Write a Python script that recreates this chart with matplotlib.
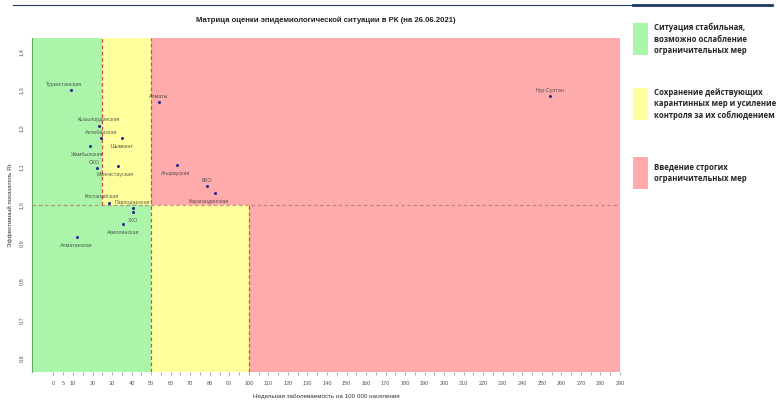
import numpy as np
import matplotlib.pyplot as plt
from matplotlib.patches import Rectangle
from matplotlib.lines import Line2D

plt.rcParams['font.family'] = ['Liberation Sans', 'DejaVu Sans']

# данные по регионам
regions = ['Туркестанская', 'Алматы', 'Кызылординская', 'Актюбинская', 'Шымкент',
           'Жамбылская', 'СКО', 'Мангистауская', 'Атырауская', 'ВКО',
           'Карагандинская', 'Костанайская', 'Павлодарская', 'ЗКО',
           'Акмолинская', 'Алматинская', 'Нур-Султан']
incidence = [8.9, 53.9, 23.4, 24.2, 35.2, 18.8, 22.4, 32.8, 63.4, 78.7,
             82.5, 28.3, 40.6, 40.9, 35.7, 11.8, 254.3]
rt = [1.30, 1.27, 1.208, 1.175, 1.175, 1.154, 1.096, 1.102, 1.105, 1.05,
      1.031, 1.004, 0.991, 0.982, 0.95, 0.917, 1.284]

x_ticks = [0, 5] + list(range(10, 300, 10))
y_ticks = [0.6, 0.7, 0.8, 0.9, 1.0, 1.1, 1.2, 1.3, 1.4]

# границы зон
rt_limit = 1.0
x_low, x_mid, x_high = 25, 50, 100
x_min, x_max = -11, 290
y_min, y_max = 0.563, 1.437

green = '#aaf5aa'
yellow = '#ffff9e'
red = '#ffabab'

legend_items = [
    (green, 'Ситуация стабильная,\nвозможно ослабление\nограничительных мер'),
    (yellow, 'Сохранение действующих\nкарантинных мер и усиление\nконтроля за их соблюдением'),
    (red, 'Введение строгих\nограничительных мер'),
]

# где подписи: смещение в пунктах
label_pos = {
    'Туркестанская': (-5, 4), 'Алматы': (0, 4), 'Кызылординская': (0, 4),
    'Актюбинская': (0, 4), 'Шымкент': (0, -6), 'Жамбылская': (-2, -6),
    'СКО': (-2, 4), 'Мангистауская': (-2, -6), 'Атырауская': (-1, -6),
    'ВКО': (0, 4), 'Карагандинская': (-4, -6), 'Костанайская': (-5, 5),
    'Павлодарская': (0, 4), 'ЗКО': (0, -6), 'Акмолинская': (0, -6),
    'Алматинская': (0, -6), 'Нур-Султан': (0, 4),
}

fig = plt.figure(figsize=(7.77, 4.03), dpi=100)
ax = fig.add_axes([32 / 777, 1 - 372 / 403, 588 / 777, 334 / 403])

# фон зон
ax.add_patch(Rectangle((x_min, rt_limit), x_low - x_min, y_max - rt_limit, color=green, lw=0))
ax.add_patch(Rectangle((x_low, rt_limit), x_mid - x_low, y_max - rt_limit, color=yellow, lw=0))
ax.add_patch(Rectangle((x_mid, rt_limit), x_max - x_mid, y_max - rt_limit, color=red, lw=0))
ax.add_patch(Rectangle((x_min, y_min), x_mid - x_min, rt_limit - y_min, color=green, lw=0))
ax.add_patch(Rectangle((x_mid, y_min), x_high - x_mid, rt_limit - y_min, color=yellow, lw=0))
ax.add_patch(Rectangle((x_high, y_min), x_max - x_high, rt_limit - y_min, color=red, lw=0))

dash = dict(color='#c8504a', lw=0.9, ls=(0, (3, 2)))
ax.plot([x_low, x_low], [rt_limit, y_max], **dash)
ax.plot([x_mid, x_mid], [y_min, y_max], **dash)
ax.plot([x_high, x_high], [y_min, rt_limit], **dash)
ax.plot([x_min, x_max], [rt_limit, rt_limit], color='#b07070', lw=0.9, ls=(0, (3, 2)), alpha=0.7)

ax.scatter(incidence, rt, s=5, color='#2d2d8f', zorder=5, lw=0)
for name, xv, yv in zip(regions, incidence, rt):
    dx, dy = label_pos[name]
    ax.annotate(name, (xv, yv), xytext=(dx, dy), textcoords='offset points',
                ha='center', va='center', fontsize=3.8, color='#333333', alpha=0.8)

ax.set_xlim(x_min, x_max)
ax.set_ylim(y_min, y_max)
ax.set_xticks(x_ticks)
ax.set_xticklabels([str(v) for v in x_ticks], fontsize=4, color='#555555')
ax.set_xticks(np.arange(0, 291, 5), minor=True)
ax.set_yticks(y_ticks)
ax.set_yticklabels([f'{v:.1f}'.replace('.', ',') for v in y_ticks], fontsize=4,
                   color='#555555', rotation=90, va='center')
ax.tick_params(axis='x', which='both', length=2.5, width=0.5, color='#888888', pad=4)
ax.tick_params(axis='y', length=0, pad=6)
for s in ['top', 'right', 'bottom']:
    ax.spines[s].set_visible(False)
ax.spines['left'].set_color('#6aa56a')
ax.spines['left'].set_linewidth(0.8)

ax.set_xlabel('Недельная заболеваемость на 100 000 населения', fontsize=4.5,
              color='#333333', labelpad=6)
ax.set_ylabel('Эффективный показатель Rt', fontsize=4.5, color='#333333', labelpad=4)
fig.text(326 / 777, 1 - 20 / 403, 'Матрица оценки эпидемиологической ситуации в РК (на 26.06.2021)',
         ha='center', va='center', fontsize=5.6, fontweight='bold', color='#222222')

# верхняя линия
fig.add_artist(Line2D([13 / 777, 772 / 777], [1 - 5 / 403] * 2, color='#1f3864', lw=0.8))
fig.add_artist(Line2D([633 / 777, 772 / 777], [1 - 5 / 403] * 2, color='#1f3864', lw=2))

# легенда справа
box_tops = [23, 88, 157]
for (col, txt), top in zip(legend_items, box_tops):
    fig.add_artist(Rectangle((633 / 777, 1 - (top + 32) / 403), 15 / 777, 32 / 403,
                             color=col, lw=0, transform=fig.transFigure))
    fig.text(654 / 777, 1 - (top + 16) / 403, txt, ha='left', va='center',
             fontsize=5.6, fontweight='bold', color='#262626', linespacing=1.35,
             family=['Open Sans', 'DejaVu Sans'])

fig.savefig('out.png', dpi=100)
